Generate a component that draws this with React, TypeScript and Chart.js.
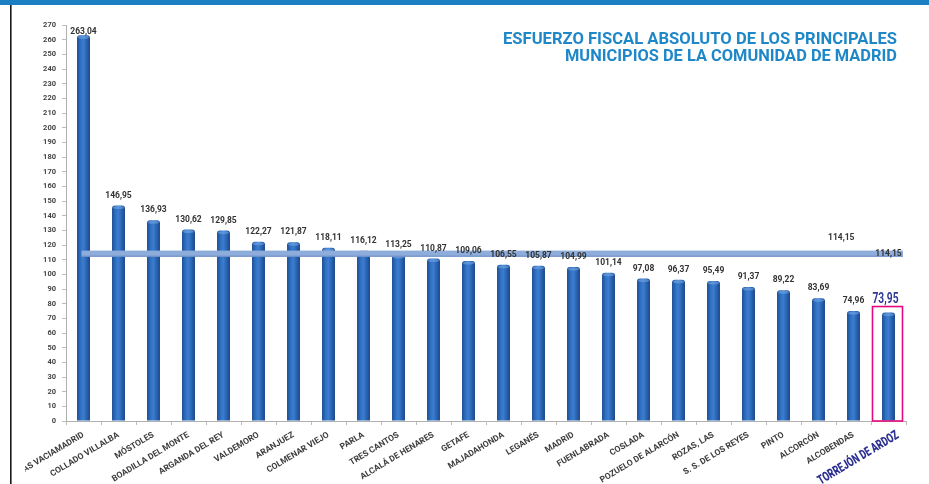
import React, { useEffect, useRef } from "react";
import { Chart, registerables } from "chart.js";

Chart.register(...registerables);

const MUNICIPIOS: string[] = [
  "RIVAS VACIAMADRID",
  "COLLADO VILLALBA",
  "MÓSTOLES",
  "BOADILLA DEL MONTE",
  "ARGANDA DEL REY",
  "VALDEMORO",
  "ARANJUEZ",
  "COLMENAR VIEJO",
  "PARLA",
  "TRES CANTOS",
  "ALCALÁ DE HENARES",
  "GETAFE",
  "MAJADAHONDA",
  "LEGANÉS",
  "MADRID",
  "FUENLABRADA",
  "COSLADA",
  "POZUELO DE ALARCÓN",
  "ROZAS, LAS",
  "S. S. DE LOS REYES",
  "PINTO",
  "ALCORCÓN",
  "ALCOBENDAS",
  "TORREJÓN DE ARDOZ",
];

const ESFUERZO: number[] = [
  263.04, 146.95, 136.93, 130.62, 129.85, 122.27, 121.87, 118.11, 116.12, 113.25,
  110.87, 109.06, 106.55, 105.87, 104.99, 101.14, 97.08, 96.37, 95.49, 91.37,
  89.22, 83.69, 74.96, 73.95,
];

const MEDIA = 114.15;
const Y_MIN = 0;
const Y_MAX = 270;
const Y_STEP = 10;
const TITULO: string[] = [
  "ESFUERZO FISCAL ABSOLUTO DE LOS PRINCIPALES",
  "MUNICIPIOS DE LA COMUNIDAD DE MADRID",
];
const DESTACADO = "TORREJÓN DE ARDOZ";

const fmt = (v: number) => v.toFixed(2).replace(".", ",");
const FONT = "Roboto, 'Liberation Sans', Arial, sans-serif";
const BAR_FRACTION = 0.37;
const ROT = 31;

const barFill = (c: any) => {
  const chart = c.chart;
  const xs = chart && chart.scales ? chart.scales.x : null;
  if (!xs || c.dataIndex == null || !chart.chartArea) return "#2a66b4";
  const cx = xs.getPixelForValue(c.dataIndex);
  const w = (xs.width / MUNICIPIOS.length) * BAR_FRACTION;
  const g = chart.ctx.createLinearGradient(cx - w / 2, 0, cx + w / 2, 0);
  g.addColorStop(0, "#1b4d94");
  g.addColorStop(0.3, "#3273c4");
  g.addColorStop(0.5, "#3a7ccd");
  g.addColorStop(0.75, "#2a62b0");
  g.addColorStop(1, "#1a4689");
  return g;
};

const decorPlugin = {
  id: "decor",
  beforeDraw(chart: any) {
    const ctx = chart.ctx;
    ctx.save();
    ctx.beginPath();
    ctx.rect(25, 0, chart.width - 25, chart.height);
    ctx.clip();
  },
  afterDatasetsDraw(chart: any) {
    const ctx = chart.ctx;
    const xs = chart.scales.x;
    const ys = chart.scales.y;
    const meta = chart.getDatasetMeta(0);
    const area = chart.chartArea;

    ctx.save();
    meta.data.forEach((bar: any) => {
      ctx.fillStyle = "rgba(120,170,230,0.55)";
      ctx.beginPath();
      ctx.ellipse(bar.x, bar.y + 2, bar.width / 2 - 1, 1.6, 0, 0, Math.PI * 2);
      ctx.fill();
    });
    ctx.restore();

    const yAvg = ys.getPixelForValue(MEDIA);
    const x0 = xs.getPixelForValue(0) - 2;
    const x1 = area.right - 3;
    ctx.save();
    ctx.fillStyle = "#8fadda";
    ctx.fillRect(x0, yAvg - 3, x1 - x0, 6);
    ctx.fillStyle = "#6f92c9";
    ctx.fillRect(x0, yAvg + 2, x1 - x0, 1.2);
    ctx.restore();

    ctx.save();
    ctx.textAlign = "center";
    ctx.textBaseline = "middle";
    meta.data.forEach((bar: any, i: number) => {
      const isHi = MUNICIPIOS[i] === DESTACADO;
      if (isHi) {
        ctx.font = `bold 15px ${FONT}`;
        ctx.fillStyle = "#2e3a94";
        ctx.fillText(fmt(ESFUERZO[i]), bar.x - 3, bar.y - 13, 26);
        ctx.strokeStyle = "#e5097f";
        ctx.lineWidth = 1.6;
        const half = 15;
        ctx.strokeRect(bar.x - half - 1, bar.y - 6, half * 2, area.bottom - (bar.y - 6));
      } else {
        ctx.font = `bold 8.5px ${FONT}`;
        ctx.fillStyle = "#333333";
        const y = Math.max(bar.y - 10, area.top + 7);
        ctx.fillText(fmt(ESFUERZO[i]), bar.x, y);
      }
    });
    ctx.font = `bold 8.5px ${FONT}`;
    ctx.fillStyle = "#333333";
    ctx.fillText(fmt(MEDIA), xs.getPixelForValue(MUNICIPIOS.length - 1), yAvg);
    ctx.fillText(fmt(MEDIA), xs.getPixelForValue(MUNICIPIOS.length - 2.35), yAvg - 16);
    ctx.restore();
  },
  afterDraw(chart: any) {
    const ctx = chart.ctx;
    ctx.restore();
    const xs = chart.scales.x;
    const area = chart.chartArea;
    ctx.save();
    ctx.fillStyle = "#1b80c3";
    ctx.fillRect(0, 0, chart.width, 5);
    ctx.fillStyle = "#1a1a1a";
    ctx.fillRect(10, 5, 1.6, chart.height - 5);
    ctx.fillStyle = "#1e87c8";
    ctx.textAlign = "right";
    ctx.textBaseline = "alphabetic";
    ctx.font = `bold 17px ${FONT}`;
    ctx.fillText(TITULO[0], 897, 44, 394);
    ctx.fillText(TITULO[1], 897, 61, 332);
    ctx.restore();

    // highlighted category label
    const hi = MUNICIPIOS.indexOf(DESTACADO);
    if (hi >= 0) {
      ctx.save();
      ctx.translate(xs.getPixelForValue(hi) + 6, area.bottom + 8);
      ctx.rotate((-ROT * Math.PI) / 180);
      ctx.textAlign = "right";
      ctx.textBaseline = "top";
      ctx.font = `900 13px ${FONT}`;
      ctx.fillStyle = "#2e3192";
      ctx.fillText(DESTACADO, 0, 0, 92);
      ctx.restore();
    }
  },
};

export default function App() {
  const ref = useRef<HTMLCanvasElement | null>(null);
  useEffect(() => {
    if (!ref.current) return;
    const chart = new Chart(ref.current, {
      type: "bar",
      data: {
        labels: MUNICIPIOS,
        datasets: [
          {
            label: "Esfuerzo fiscal",
            data: ESFUERZO,
            backgroundColor: barFill,
            barPercentage: BAR_FRACTION * 2,
            categoryPercentage: 0.5,
            borderRadius: { topLeft: 3, topRight: 3, bottomLeft: 0, bottomRight: 0 },
            borderSkipped: "bottom",
          },
        ],
      },
      options: {
        animation: false,
        responsive: false,
        maintainAspectRatio: false,
        devicePixelRatio: 1,
        layout: { padding: { left: 0, right: 23, top: 25, bottom: 0 } },
        plugins: {
          legend: { display: false },
          tooltip: { enabled: false },
          title: { display: false },
        },
        scales: {
          x: {
            ticks: {
              autoSkip: false,
              minRotation: ROT,
              maxRotation: ROT,
              padding: 5,
              color: (c: any) => (MUNICIPIOS[c.index] === DESTACADO ? "rgba(0,0,0,0)" : "#3c3c3c"),
              font: { family: FONT, size: 8.5, weight: "bold" },
            },
            grid: { drawOnChartArea: false, tickLength: 4, color: "#bdbdbd", offset: true },
            border: { color: "#b0b0b0" },
            afterFit: (s: any) => {
              s.height = 63;
            },
          },
          y: {
            min: Y_MIN,
            max: Y_MAX,
            ticks: {
              stepSize: Y_STEP,
              autoSkip: false,
              padding: 6,
              color: "#444444",
              font: { family: FONT, size: 7.5, weight: "bold" },
            },
            grid: { drawOnChartArea: false, tickLength: 4, color: "#bdbdbd" },
            border: { color: "#b0b0b0" },
            afterFit: (s: any) => {
              s.width = 66;
            },
          },
        },
      },
      plugins: [decorPlugin],
    });
    return () => chart.destroy();
  }, []);

  return (
    <div style={{ position: "fixed", left: 0, top: 0, width: 929, height: 484, background: "#fff" }}>
      <canvas ref={ref} width={929} height={484} style={{ width: 929, height: 484, display: "block" }} />
    </div>
  );
}
